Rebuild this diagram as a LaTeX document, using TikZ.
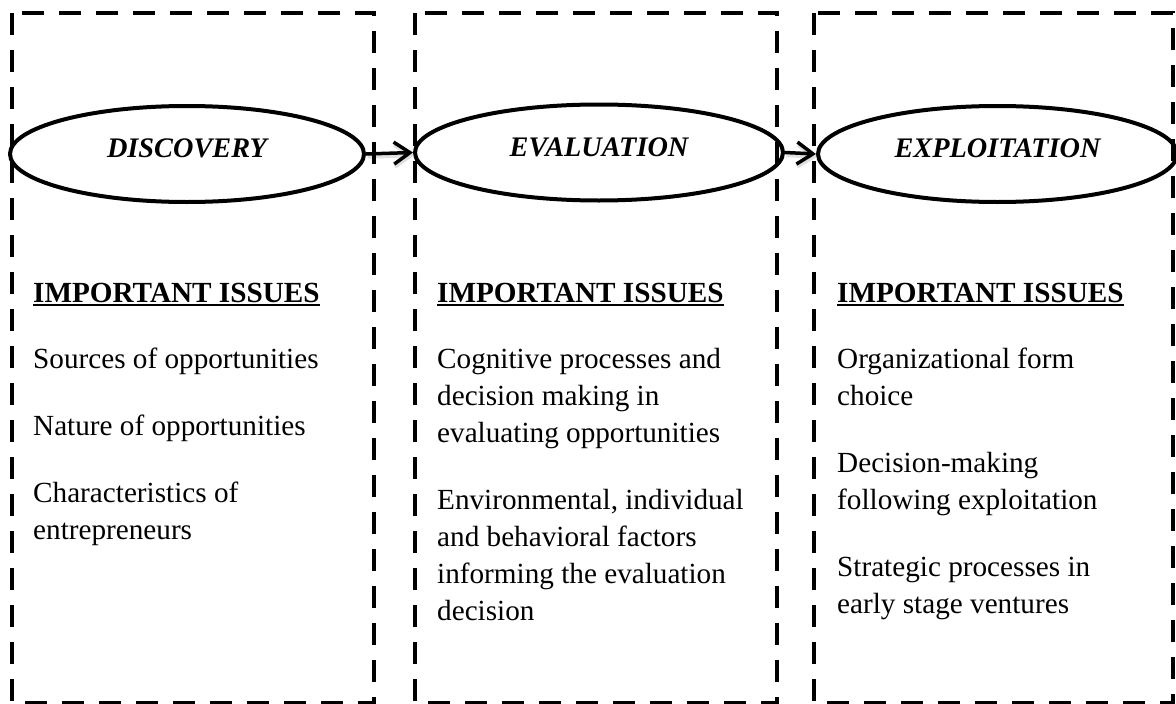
\documentclass[tikz,border=0pt]{standalone}
\usepackage{fontspec}
\setmainfont{Liberation Serif}
\usetikzlibrary{shapes.geometric,arrows.meta}
\begin{document}
\begin{tikzpicture}[x=1pt,y=-1pt,
  phasebox/.style={line width=4.5pt, dash pattern=on 22pt off 15pt},
  stage/.style={ellipse, draw, line width=4pt, inner sep=0pt, minimum height=96pt,
    font=\fontsize{28.3}{34}\selectfont\bfseries\itshape, text height=7pt, text depth=0pt},
  flow/.style={line width=3.5pt, -{Straight Barb[length=16pt,width=22pt]}},
  flowshadow/.style={line width=4.5pt, black, opacity=0.12, -{Straight Barb[length=16pt,width=22pt]},
    transform canvas={shift={(1.5pt,-2.5pt)}}},
  heading/.style={anchor=base west, inner sep=0pt, font=\fontsize{29.2}{37}\selectfont\bfseries},
  issue/.style={anchor=base west, inner sep=0pt, font=\fontsize{29.2}{37}\selectfont},
  uline/.style={line width=1.5pt},
]
\useasboundingbox (0,0) rectangle (1176,704);

% dashed phase boxes
\draw[phasebox] (12,13) rectangle (374,703);
\draw[phasebox] (415,13) rectangle (777,703);
\draw[phasebox] (814,13) rectangle (1173,703);

% stage ellipses
\node[stage, minimum width=354pt] (disc) at (187,154) {DISCOVERY};
\node[stage, minimum width=368pt] (eval) at (599,152.5) {EVALUATION};
\node[stage, minimum width=359pt] (expl) at (997.5,154) {EXPLOITATION};

% arrows (with a faint shadow)
\draw[flowshadow] (disc.east) -- (eval.west);
\draw[flowshadow] (eval.east) -- (expl.west);
\draw[flow] (disc.east) -- (eval.west);
\draw[flow] (eval.east) -- (expl.west);

% column 1
\node[heading] (h1) at (33,302) {IMPORTANT ISSUES};
\draw[uline] ([yshift=-3pt]h1.base west) -- ([yshift=-3pt]h1.base east);
\node[issue] (d1) at (33,368) {\vtop{\hbox{Sources of opportunities}}};
\node[issue] (d2) at (33,435) {\vtop{\hbox{Nature of opportunities}}};
\node[issue] (d3) at (33,502) {\vtop{\hbox{Characteristics of}\hbox{entrepreneurs}}};

% column 2
\node[heading] (h2) at (437,302) {IMPORTANT ISSUES};
\draw[uline] ([yshift=-3pt]h2.base west) -- ([yshift=-3pt]h2.base east);
\node[issue] (e1) at (437,368) {\vtop{\hbox{Cognitive processes and}\hbox{decision making in}\hbox{evaluating opportunities}}};
\node[issue] (e2) at (437,509) {\vtop{\hbox{Environmental, individual}\hbox{and behavioral factors}\hbox{informing the evaluation}\hbox{decision}}};

% column 3
\node[heading] (h3) at (837,302) {IMPORTANT ISSUES};
\draw[uline] ([yshift=-3pt]h3.base west) -- ([yshift=-3pt]h3.base east);
\node[issue] (x1) at (837,368) {\vtop{\hbox{Organizational form}\hbox{choice}}};
\node[issue] (x2) at (837,472) {\vtop{\hbox{Decision-making}\hbox{following exploitation}}};
\node[issue] (x3) at (837,576) {\vtop{\hbox{Strategic processes in}\hbox{early stage ventures}}};
\end{tikzpicture}
\end{document}
